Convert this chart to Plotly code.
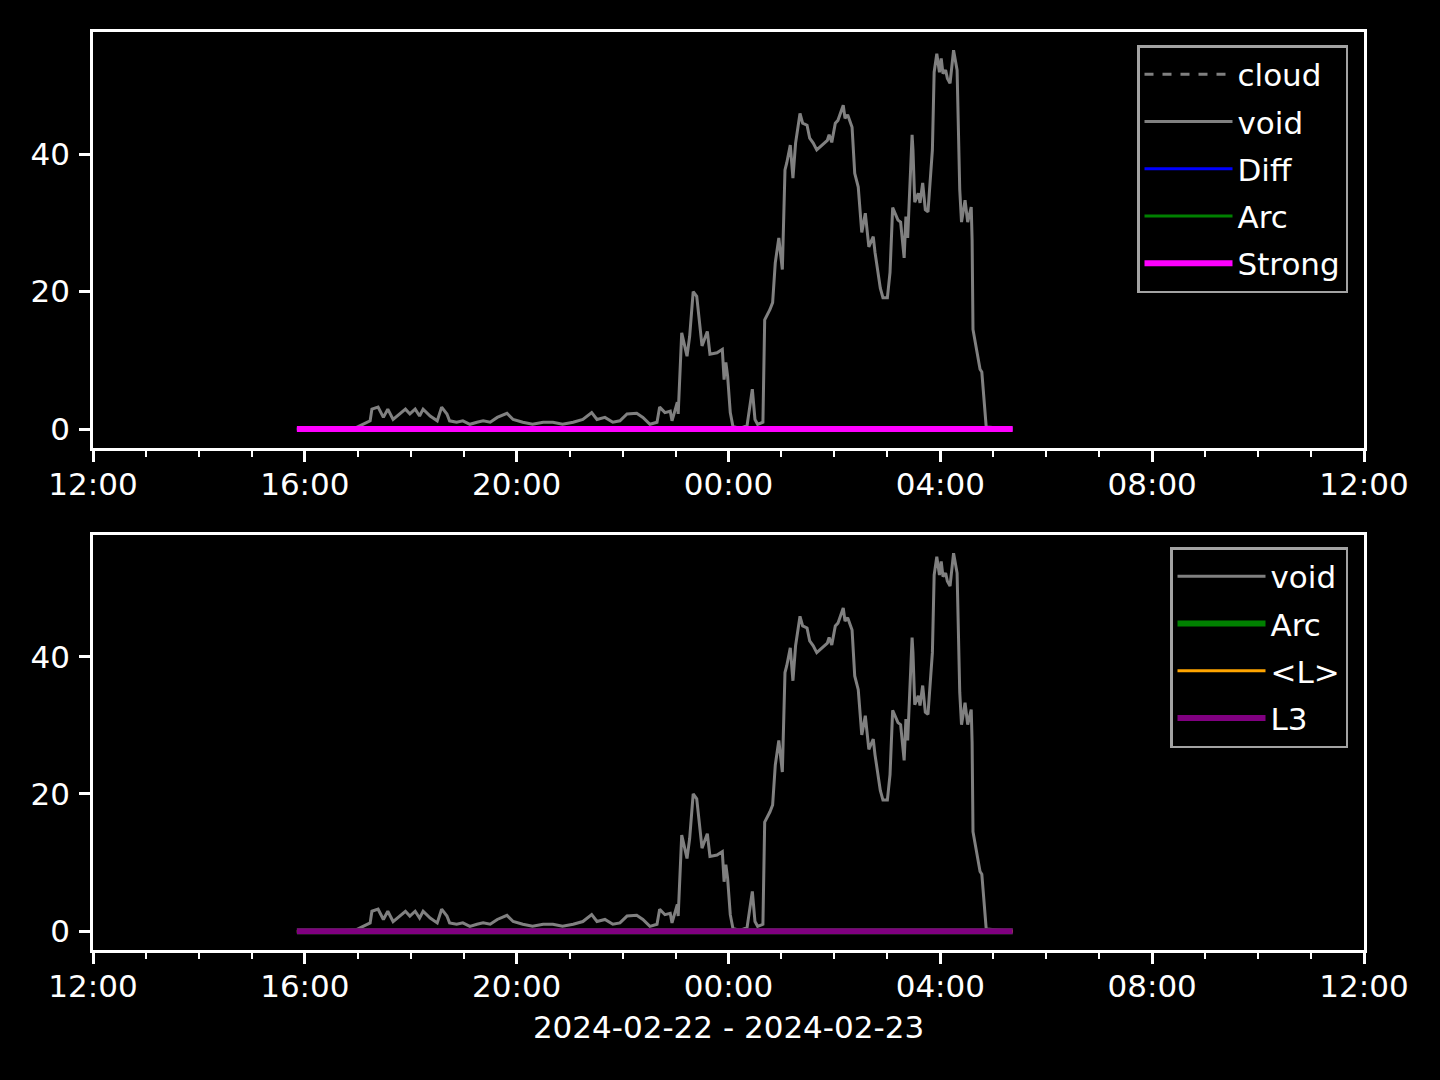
import plotly.graph_objects as go

# ---- data ----
void_times = ["15:51", "16:30", "16:58", "17:14", "17:16", "17:23", "17:29", "17:34", "17:40", "17:48",
              "17:54", "17:59", "18:05", "18:10", "18:14", "18:22", "18:30", "18:35", "18:41", "18:44",
              "18:52", "18:59", "19:07", "19:15", "19:22", "19:30", "19:38", "19:49", "19:56", "20:07",
              "20:18", "20:30", "20:41", "20:52", "21:04", "21:15", "21:25", "21:31", "21:40", "21:49",
              "21:57", "22:05", "22:16", "22:23", "22:31", "22:39", "22:42", "22:48", "22:54", "22:56",
              "23:02", "23:03", "23:07", "23:13", "23:16", "23:20", "23:24", "23:30", "23:36", "23:39",
              "23:47", "23:53", "23:55", "23:57", "23:59", "00:02", "00:05", "00:13", "00:21", "00:27",
              "00:30", "00:33", "00:39", "00:41", "00:47", "00:50", "00:53", "00:57", "01:01", "01:04",
              "01:06", "01:10", "01:13", "01:16", "01:21", "01:24", "01:29", "01:32", "01:36", "01:40",
              "01:46", "01:52", "01:54", "01:57", "02:01", "02:04", "02:10", "02:12", "02:15", "02:20",
              "02:23", "02:27", "02:31", "02:35", "02:39", "02:44", "02:46", "02:52", "02:55", "03:00",
              "03:03", "03:06", "03:12", "03:15", "03:19", "03:21", "03:23", "03:28", "03:29", "03:31",
              "03:35", "03:37", "03:40", "03:43", "03:46", "03:51", "03:53", "03:56", "03:59", "04:01",
              "04:03", "04:06", "04:08", "04:11", "04:15", "04:19", "04:22", "04:24", "04:28", "04:31",
              "04:35", "04:36", "04:37", "04:45", "04:47", "04:52", "05:22"]
void_values = [0.0, 0.0, 0.2, 1.2, 2.9, 3.2, 1.7, 2.9, 1.4, 2.2,
               2.9, 2.2, 2.9, 1.9, 2.9, 1.9, 1.2, 3.2, 2.2, 1.2,
               1.0, 1.2, 0.7, 1.0, 1.2, 1.0, 1.7, 2.3, 1.4, 1.0,
               0.7, 1.0, 1.0, 0.7, 1.0, 1.4, 2.4, 1.4, 1.7, 1.0,
               1.2, 2.2, 2.3, 1.7, 0.7, 1.0, 3.2, 2.4, 2.6, 1.2,
               3.9, 2.2, 14.0, 10.6, 13.5, 20.0, 19.3, 12.1, 14.2, 10.9,
               11.1, 11.6, 7.2, 9.7, 7.7, 2.4, 0.4, 0.1, 0.5, 5.8,
               1.4, 0.7, 1.0, 15.9, 17.4, 18.4, 24.2, 27.8, 23.2, 37.7,
               38.7, 41.3, 36.5, 41.6, 45.9, 44.5, 44.2, 42.3, 41.6, 40.6,
               41.3, 42.0, 42.8, 41.7, 44.5, 44.9, 47.1, 45.2, 45.7, 43.9,
               37.2, 35.2, 28.6, 31.4, 26.5, 28.0, 25.7, 20.5, 19.1, 19.1,
               22.8, 32.2, 30.4, 30.1, 24.9, 30.9, 27.8, 42.8, 40.6, 33.0,
               34.3, 32.9, 35.8, 31.9, 31.6, 40.6, 51.9, 54.6, 51.9, 53.9,
               51.7, 52.2, 51.0, 50.3, 55.1, 52.2, 34.8, 30.1, 33.3, 30.1,
               32.3, 27.5, 14.5, 8.7, 8.3, 0.3, 0.0]

flat_times = ["15:51", "05:22"]
flat_values = [0.0, 0.0]

x_range = ["2024-02-22 12:00", "2024-02-23 12:00"]
y_ticks = [0, 20, 40]
x_label = "2024-02-22 - 2024-02-23"


def to_ts(hm):
    day = "2024-02-22" if int(hm[:2]) >= 12 else "2024-02-23"
    return f"{day} {hm}"


vt = [to_ts(t) for t in void_times]
ft = [to_ts(t) for t in flat_times]

FONT = "DejaVu Sans"
FS = 31

fig = go.Figure()

top_traces = [
    ("cloud", ft, flat_values, "#808080", 3, "dash"),
    ("void", vt, void_values, "#808080", 3, "solid"),
    ("Diff", ft, flat_values, "#0000ff", 3, "solid"),
    ("Arc", ft, flat_values, "#008000", 3, "solid"),
    ("Strong", ft, flat_values, "#ff00ff", 6, "solid"),
]
bottom_traces = [
    ("void", vt, void_values, "#808080", 3, "solid"),
    ("Arc", ft, flat_values, "#008000", 6, "solid"),
    ("&lt;L&gt;", ft, flat_values, "#ffa500", 3, "solid"),
    ("L3", ft, flat_values, "#800080", 6, "solid"),
]

for i, (name, xs, ys, col, w, dash) in enumerate(top_traces):
    fig.add_trace(go.Scatter(x=xs, y=ys, name=name, mode="lines",
                             line=dict(color=col, width=w, dash=dash),
                             legendgroup=f"t{i}",
                             xaxis="x", yaxis="y", legend="legend"))
for i, (name, xs, ys, col, w, dash) in enumerate(bottom_traces):
    fig.add_trace(go.Scatter(x=xs, y=ys, name=name, mode="lines",
                             line=dict(color=col, width=w, dash=dash),
                             legendgroup=f"b{i}",
                             xaxis="x2", yaxis="y2", legend="legend2"))

xdom = [93 / 1440, 1364 / 1440]


def xaxis(anchor, title=None):
    d = dict(domain=xdom, anchor=anchor, type="date", range=x_range, automargin=False,
             tick0="2024-02-22 12:00", dtick=4 * 3600 * 1000, tickformat="%H:%M",
             ticks="outside", ticklen=11, tickwidth=2.5, tickcolor="white",
             ticklabelstandoff=-4,
             showline=True, linecolor="white", linewidth=2.5, mirror=True,
             showgrid=False, zeroline=False,
             tickfont=dict(family=FONT, size=FS, color="white"),
             minor=dict(dtick=3600 * 1000, ticks="outside", ticklen=6,
                        tickwidth=2, tickcolor="white", showgrid=False))
    if title:
        d["title"] = dict(text=title, font=dict(family=FONT, size=FS, color="white"), standoff=14)
    return d


def yaxis(anchor, dom):
    return dict(domain=dom, anchor=anchor, range=[-2.75, 57.75], automargin=False,
                tickvals=y_ticks, ticks="outside", ticklen=11, tickwidth=2.5,
                tickcolor="white", showline=True, linecolor="white", linewidth=2.5,
                ticklabelstandoff=3,
                mirror=True, showgrid=False, zeroline=False,
                tickfont=dict(family=FONT, size=FS, color="white"))


legend_common = dict(font=dict(family=FONT, size=FS, color="white"),
                     bgcolor="black", bordercolor="#a3a3a3", borderwidth=2.5,
                     xanchor="right", yanchor="top", tracegroupgap=4,
                     itemwidth=88)

fig.update_layout(
    width=1440, height=1080,
    margin=dict(l=0, r=0, t=0, b=0),
    paper_bgcolor="black", plot_bgcolor="black",
    font=dict(family=FONT, size=FS, color="white"),
    xaxis=xaxis("y"),
    yaxis=yaxis("x", [1 - 448 / 1080, 1 - 32 / 1080]),
    xaxis2=xaxis("y2", x_label),
    yaxis2=yaxis("x2", [1 - 950 / 1080, 1 - 535 / 1080]),
    legend=dict(x=1348 / 1440, y=1 - 45 / 1080, **legend_common),
    legend2=dict(x=1348 / 1440, y=1 - 547 / 1080, **legend_common),
    showlegend=True,
)

fig.write_html("out.html", config={"displayModeBar": False},
               post_script="document.body.style.margin='0';document.body.style.background='black';")
